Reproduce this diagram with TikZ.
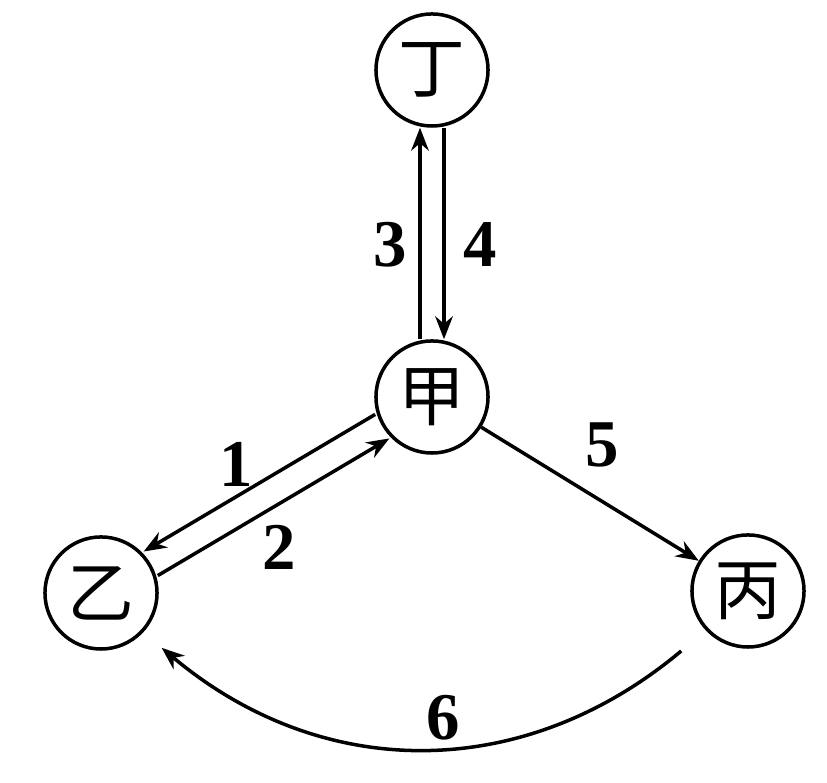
\documentclass[tikz,border=0pt]{standalone}
\usepackage{fontspec}
\setmainfont{Liberation Serif}
\newfontfamily\cjk{Noto Sans CJK SC}
\usetikzlibrary{arrows.meta}

\begin{document}
\begin{tikzpicture}[x=0.01cm,y=0.01cm,
  station/.style={draw,circle,line width=0.035cm,minimum size=1.12cm,inner sep=0pt,font=\cjk\fontsize{19}{19}\selectfont},
  flow/.style={line width=0.035cm,-{Stealth[length=6.5pt,width=5pt]}},
  num/.style={font=\bfseries\fontsize{19}{19}\selectfont}]
\useasboundingbox (0,0) rectangle (827,783);

\node[station] (A) at (432,386) {甲};
\node[station] (B) at (101,190) {乙};
\node[station] (C) at (748,192) {丙};
\node[station] (D) at (432,713) {丁};

\draw[flow, transform canvas={xshift=-0.12cm}] (A) -- (D);
\draw[flow, transform canvas={xshift=0.12cm}] (D) -- (A);

\draw[flow, transform canvas={xshift=-0.071cm,yshift=0.12cm}] (A) -- (B);
\draw[flow, transform canvas={xshift=0.071cm,yshift=-0.12cm}] (B) -- (A);

\draw[flow] (A) -- (C);
\draw[flow, shorten <=0.32cm, shorten >=0.24cm] (C.223) to[out=-140,in=-40,looseness=1.07] (B.-43);

\node[num] (n1) at (236,319) {1};
\node[num] (n2) at (279,236) {2};
\node[num] (n3) at (390,538) {3};
\node[num] (n4) at (480,538) {4};
\node[num] (n5) at (602,338) {5};
\node[num] (n6) at (443,65) {6};
\end{tikzpicture}
\end{document}
